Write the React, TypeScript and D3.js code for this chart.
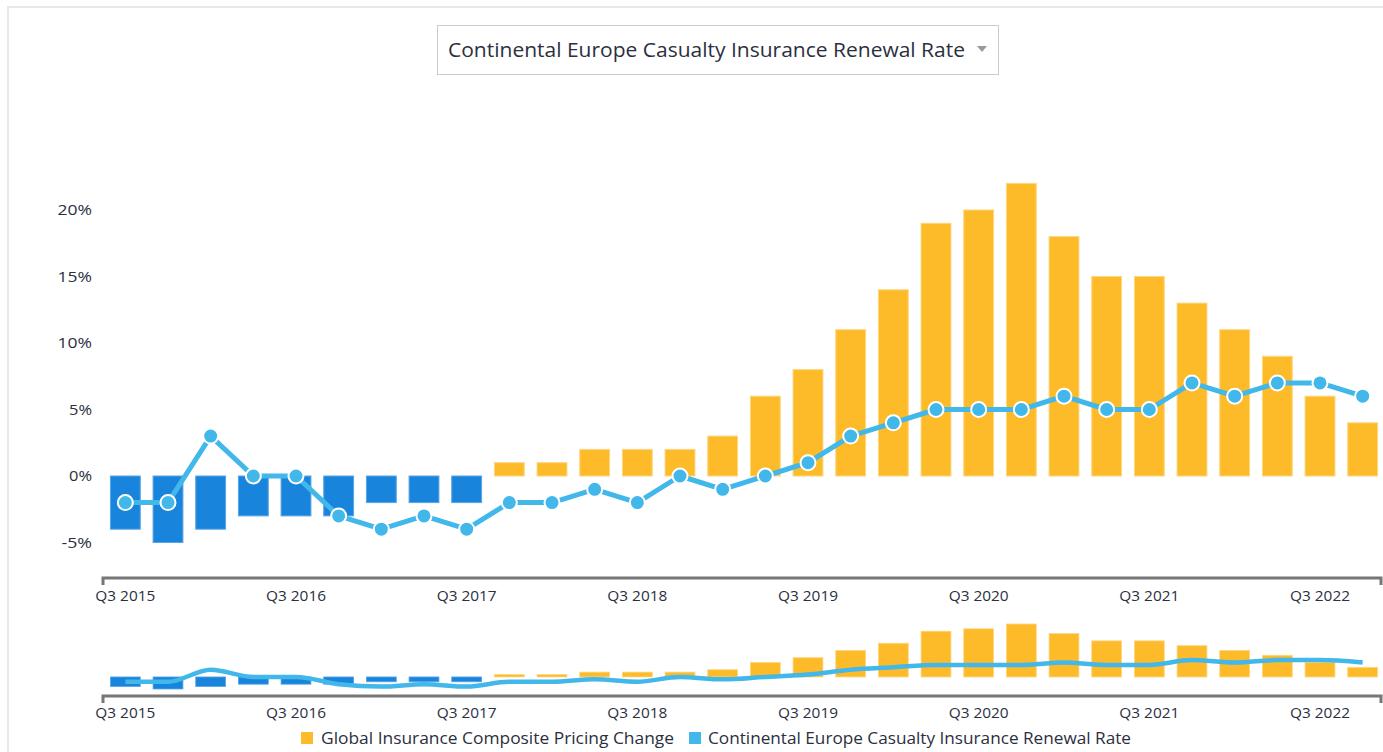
import React from "react";
import * as d3 from "d3";

const quarters = [
  "Q3 2015", "Q4 2015", "Q1 2016", "Q2 2016", "Q3 2016", "Q4 2016",
  "Q1 2017", "Q2 2017", "Q3 2017", "Q4 2017", "Q1 2018", "Q2 2018",
  "Q3 2018", "Q4 2018", "Q1 2019", "Q2 2019", "Q3 2019", "Q4 2019",
  "Q1 2020", "Q2 2020", "Q3 2020", "Q4 2020", "Q1 2021", "Q2 2021",
  "Q3 2021", "Q4 2021", "Q1 2022", "Q2 2022", "Q3 2022", "Q4 2022",
];

// Global Insurance Composite Pricing Change (%)
const globalPricing = [
  -4, -5, -4, -3, -3, -3, -2, -2, -2, 1, 1, 2, 2, 2, 3, 6, 8, 11, 14, 19,
  20, 22, 18, 15, 15, 13, 11, 9, 6, 4,
];

// Continental Europe Casualty Insurance Renewal Rate (%)
const europeCasualty = [
  -2, -2, 3, 0, 0, -3, -4, -3, -4, -2, -2, -1, -2, 0, -1, 0, 1, 3, 4, 5,
  5, 5, 6, 5, 5, 7, 6, 7, 7, 6,
];

const yTicks = [-5, 0, 5, 10, 15, 20];
const xTickLabels = ["Q3 2015", "Q3 2016", "Q3 2017", "Q3 2018", "Q3 2019", "Q3 2020", "Q3 2021", "Q3 2022"];

const titleText = "Continental Europe Casualty Insurance Renewal Rate";
const seriesNames = ["Global Insurance Composite Pricing Change", "Continental Europe Casualty Insurance Renewal Rate"];

const YELLOW = "#fdbb2a";
const BLUE_BAR = "#1884dc";
const LINE = "#42b7ea";
const TEXT = "#2b2f3e";
const FONT = "'Open Sans', 'Noto Sans', sans-serif";

export default function App() {
  const W = 1383;
  const H = 752;

  const x = d3.scaleBand<string>().domain(quarters).range([104, 1384]).paddingInner(0.3).paddingOuter(0.15);
  const bw = x.bandwidth();
  const cx = (q: string) => (x(q) as number) + bw / 2;

  // main plot
  const y = d3.scaleLinear().domain([-5, 20]).range([542.5, 210]);
  // navigator
  const yn = d3.scaleLinear().domain([-5, 22]).range([689, 624]);

  const rows = quarters.map((q, i) => ({ q, bar: globalPricing[i], rate: europeCasualty[i] }));

  const mainLine = d3.line<typeof rows[number]>().x((d) => cx(d.q)).y((d) => y(d.rate));
  const navLine = d3
    .line<typeof rows[number]>()
    .x((d) => cx(d.q))
    .y((d) => yn(d.rate))
    .curve(d3.curveMonotoneX);

  const axisY = 578;
  const navAxisY = 696;
  const xStart = 103;
  const xEnd = 1381;

  const legendY = 739;

  // rough width of percent labels in the reference
  const pctWidth = (t: number) => (String(t).length + 1) * 11.5 + (t < 0 ? -4 : 0);

  return (
    <svg
      width={W}
      height={H}
      style={{ position: "fixed", left: 0, top: 0, background: "#fff", fontFamily: FONT }}
    >
      {/* card frame */}
      <rect x={8} y={7} width={W + 10} height={H + 10} fill="#fff" stroke="#e8e8e8" strokeWidth={2} />

      {/* title dropdown */}
      <rect x={437.5} y={25.5} width={561} height={49} fill="#fff" stroke="#cccccc" strokeWidth={1} />
      <text x={448} y={57} fontSize={19.5} fill={TEXT} textLength={517} lengthAdjust="spacingAndGlyphs">
        {titleText}
      </text>
      <path d="M977,46 L987,46 L982,52 Z" fill="#999" />

      {/* y axis labels */}
      {yTicks.map((t) => (
        <text
          key={t}
          x={92}
          y={y(t) + 5}
          fontSize={14}
          textAnchor="end"
          fill={TEXT}
          textLength={pctWidth(t)}
          lengthAdjust="spacingAndGlyphs"
        >
          {t}%
        </text>
      ))}

      {/* bars */}
      {rows.map((d) => (
        <rect
          key={d.q}
          x={x(d.q)}
          y={y(Math.max(0, d.bar))}
          width={bw}
          height={Math.abs(y(d.bar) - y(0))}
          fill={d.bar < 0 ? BLUE_BAR : YELLOW}
          stroke={d.bar < 0 ? "#5aa6e6" : "#fdd67f"}
          strokeWidth={1}
        />
      ))}

      {/* line */}
      <path d={mainLine(rows) || ""} fill="none" stroke={LINE} strokeWidth={5} strokeLinejoin="round" />
      {rows.map((d) => (
        <circle key={d.q} cx={cx(d.q)} cy={y(d.rate)} r={7.5} fill={LINE} stroke="#fff" strokeWidth={2} />
      ))}

      {/* main x axis */}
      <path
        d={`M${xStart},${axisY + 7}V${axisY}H${xEnd}V${axisY + 7}`}
        fill="none"
        stroke="#777"
        strokeWidth={3}
      />
      {xTickLabels.map((q) => (
        <text
          key={q}
          x={cx(q)}
          y={axisY + 23}
          fontSize={14}
          textAnchor="middle"
          fill={TEXT}
          textLength={60}
          lengthAdjust="spacingAndGlyphs"
        >
          {q}
        </text>
      ))}

      {/* navigator */}
      {rows.map((d) => (
        <rect
          key={"n" + d.q}
          x={x(d.q)}
          y={yn(Math.max(0, d.bar))}
          width={bw}
          height={Math.abs(yn(d.bar) - yn(0))}
          fill={d.bar < 0 ? BLUE_BAR : YELLOW}
          stroke={d.bar < 0 ? "#5aa6e6" : "#fdd67f"}
          strokeWidth={0.8}
        />
      ))}
      <path d={navLine(rows) || ""} fill="none" stroke={LINE} strokeWidth={4.5} />
      <path
        d={`M${xStart},${navAxisY + 7}V${navAxisY}H${xEnd}V${navAxisY + 7}`}
        fill="none"
        stroke="#777"
        strokeWidth={3}
      />
      {xTickLabels.map((q) => (
        <text
          key={"n" + q}
          x={cx(q)}
          y={navAxisY + 22}
          fontSize={14}
          textAnchor="middle"
          fill={TEXT}
          textLength={60}
          lengthAdjust="spacingAndGlyphs"
        >
          {q}
        </text>
      ))}

      {/* legend */}
      <rect x={301} y={legendY - 7} width={12} height={12} fill={YELLOW} />
      <text x={321} y={legendY + 5} fontSize={16.5} fill={TEXT} textLength={353} lengthAdjust="spacingAndGlyphs">
        {seriesNames[0]}
      </text>
      <rect x={689} y={legendY - 7} width={12} height={12} fill={LINE} />
      <text x={708} y={legendY + 5} fontSize={16.5} fill={TEXT} textLength={423} lengthAdjust="spacingAndGlyphs">
        {seriesNames[1]}
      </text>
    </svg>
  );
}
